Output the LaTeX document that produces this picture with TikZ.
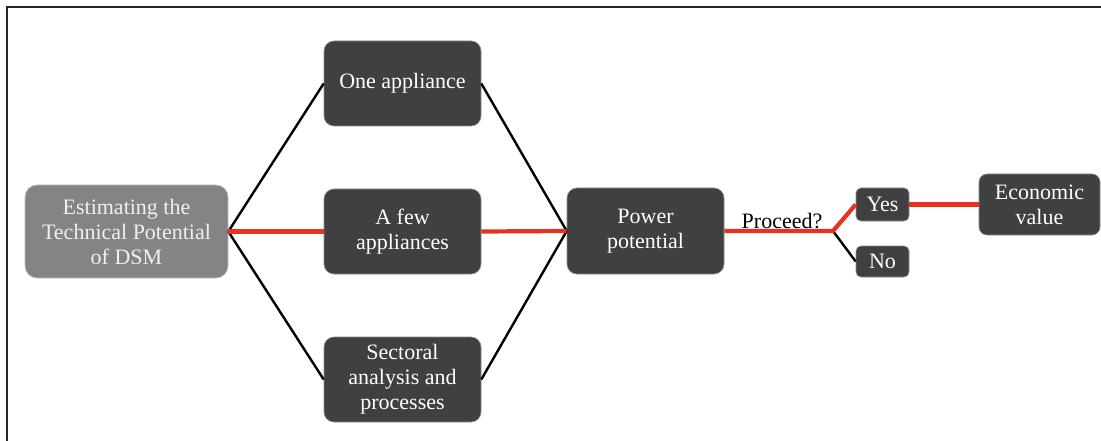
\documentclass[tikz,border=0pt]{standalone}
\usepackage{fontspec}
\setmainfont{Liberation Serif}
\definecolor{boxdark}{HTML}{404040}
\definecolor{boxgrey}{HTML}{848484}
\definecolor{pathred}{HTML}{E8321F}
\begin{document}
\begin{tikzpicture}[x=1pt,y=-1pt,
  every node/.style={font=\fontsize{22}{25}\selectfont, align=center, inner sep=0pt},
  bigbox/.style={rectangle, rounded corners=10pt, fill=boxdark, draw=black!45, line width=0.6pt,
    text=white, minimum width=157pt, minimum height=85pt},
  smallbox/.style={rectangle, rounded corners=5pt, fill=boxdark, draw=black!45, line width=0.6pt,
    text=white, minimum width=53pt, minimum height=32pt},
  startbox/.style={rectangle, rounded corners=12pt, fill=boxgrey, draw=black!25, line width=0.6pt,
    text=white!94!black, minimum width=203pt, minimum height=93pt},
  plain/.style={black, line width=2.4pt},
  chosen/.style={pathred, line width=4.2pt}]
  \useasboundingbox (0,0) rectangle (1101,441);
  % outer frame (left and top edges)
  \draw[line width=2pt, black!85] (7,441) -- (7,7) -- (1101,7);

  % boxes
  \node[startbox] (dsm) at (126.5,231.5) {Estimating the\\Technical Potential\\of DSM};
  \node[bigbox] (one) at (402.5,83.5) {One appliance};
  \node[bigbox] (few) at (402.5,231.5) {A few\\appliances};
  \node[bigbox] (sec) at (402.5,379.5) {Sectoral\\analysis and\\processes};
  \node[bigbox, minimum height=86pt] (pow) at (645.5,231) {Power\\potential};
  \node[smallbox, minimum height=33pt] (yes) at (882.5,204.5) {Yes};
  \node[smallbox, minimum height=31pt] (no) at (882.5,261.5) {No};
  \node[bigbox, rounded corners=8pt, minimum width=121pt, minimum height=61pt] (eco) at (1039.5,204.5) {Economic\\value};
  \coordinate (fork) at (833,231);

  % connectors: black for the alternatives, red for the chosen route
  \draw[plain] (dsm.east) -- (one.west);
  \draw[plain] (dsm.east) -- (sec.west);
  \draw[plain] (one.east) -- (pow.west);
  \draw[plain] (sec.east) -- (pow.west);
  \draw[plain] (fork) -- (no.west);
  \draw[chosen] (dsm.east) -- (few.west);
  \draw[chosen] (few.east) -- (pow.west);
  \draw[chosen, line join=round] (pow.east) -- (fork) -- (yes.west);
  \draw[chosen] (yes.east) -- (eco.west);
  \node[anchor=south, text=black] (ask) at (782,229) {Proceed?};
\end{tikzpicture}
\end{document}
